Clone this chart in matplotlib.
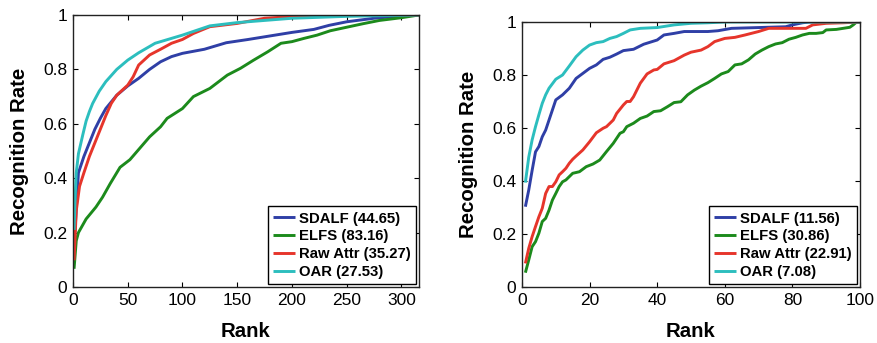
"""
CMC curves, two datasets: SDALF / ELFS / Raw Attr / OAR.
Writes out.png (877x343).
"""
import numpy as np
import matplotlib
matplotlib.use("Agg")
import matplotlib.pyplot as plt

# ── Data: left panel (ranks up to 316) ───────────────────────────────────────
L_SDALF_R = [1, 5, 10, 15, 20, 25, 30, 40, 50, 60, 70, 80, 90, 100, 120, 140,
             160, 180, 200, 220, 234, 250, 275, 300, 316]
L_SDALF_V = [0.15, 0.42, 0.48, 0.53, 0.58, 0.62, 0.656, 0.705, 0.739, 0.767,
             0.80, 0.828, 0.847, 0.859, 0.874, 0.898, 0.91, 0.923, 0.936,
             0.947, 0.962, 0.975, 0.988, 0.996, 1.0]

L_ELFS_R = [1, 3, 5, 12, 21, 27, 34, 43, 52, 61, 70, 80, 86, 100, 110, 125,
            141, 153, 165, 178, 190, 200, 211, 223, 235, 250, 265, 280, 300, 316]
L_ELFS_V = [0.067, 0.17, 0.20, 0.25, 0.294, 0.33, 0.38, 0.44, 0.468, 0.51,
            0.552, 0.589, 0.62, 0.656, 0.70, 0.73, 0.779, 0.804, 0.834, 0.865,
            0.896, 0.902, 0.914, 0.926, 0.942, 0.955, 0.968, 0.98, 0.99, 1.0]

L_RAW_R = [1, 3, 6, 10, 15, 20, 25, 30, 35, 40, 50, 55, 60, 70, 80, 90, 100,
           110, 125, 150, 175, 200, 230, 316]
L_RAW_V = [0.098, 0.28, 0.37, 0.42, 0.48, 0.53, 0.58, 0.63, 0.675, 0.705,
           0.742, 0.773, 0.816, 0.853, 0.874, 0.896, 0.91, 0.932, 0.957,
           0.969, 0.988, 0.994, 1.0, 1.0]

L_OAR_R = [1, 2, 3, 5, 9, 12, 15, 18, 24, 30, 40, 50, 60, 75, 100, 125, 150,
           200, 250, 316]
L_OAR_V = [0.21, 0.33, 0.42, 0.49, 0.56, 0.61, 0.645, 0.675, 0.72, 0.755,
           0.80, 0.834, 0.861, 0.896, 0.926, 0.96, 0.972, 0.988, 0.995, 1.0]

# ── Data: right panel (ranks 1..100) ─────────────────────────────────────────
R_SDALF_R = [1, 2, 3, 4, 5, 6, 7, 8, 9, 10, 12, 14, 16, 18, 20, 22, 24, 26,
             28, 30, 33, 36, 40, 42, 45, 48, 55, 58, 62, 70, 78, 80, 83, 85, 100]
R_SDALF_V = [0.303, 0.366, 0.44, 0.51, 0.53, 0.567, 0.592, 0.63, 0.668, 0.706,
             0.725, 0.75, 0.787, 0.806, 0.825, 0.838, 0.859, 0.867, 0.879,
             0.892, 0.897, 0.916, 0.932, 0.951, 0.957, 0.964, 0.964, 0.967,
             0.976, 0.979, 0.982, 0.989, 0.997, 1.0, 1.0]

R_ELFS_R = [1, 2, 3, 4, 5, 6, 7, 8, 9, 10, 11, 12, 13, 15, 17, 19, 21, 23, 25,
            27, 29, 30, 31, 33, 35, 37, 39, 41, 43, 45, 47, 49, 51, 53, 55, 57,
            59, 61, 63, 65, 67, 69, 71, 73, 75, 77, 79, 81, 83, 85, 87, 89, 90,
            93, 95, 97, 98, 99, 100]
R_ELFS_V = [0.054, 0.102, 0.152, 0.171, 0.203, 0.247, 0.259, 0.29, 0.328,
            0.353, 0.379, 0.397, 0.404, 0.429, 0.435, 0.454, 0.464, 0.479,
            0.511, 0.542, 0.58, 0.586, 0.605, 0.618, 0.636, 0.645, 0.662,
            0.665, 0.68, 0.696, 0.699, 0.725, 0.743, 0.758, 0.771, 0.787,
            0.804, 0.813, 0.838, 0.842, 0.857, 0.879, 0.894, 0.907, 0.917,
            0.922, 0.935, 0.942, 0.951, 0.957, 0.957, 0.96, 0.97, 0.972,
            0.976, 0.98, 0.989, 1.0, 1.0]

R_RAW_R = [1, 2, 3, 4, 5, 6, 7, 8, 9, 10, 11, 12, 13, 14, 15, 16, 18, 20, 22,
           24, 25, 27, 28, 30, 31, 32, 33, 35, 37, 39, 40, 42, 45, 48, 50, 53,
           55, 57, 60, 63, 66, 70, 73, 80, 84, 86, 90, 95, 100]
R_RAW_V = [0.089, 0.146, 0.19, 0.228, 0.265, 0.297, 0.353, 0.379, 0.379,
           0.397, 0.423, 0.435, 0.448, 0.467, 0.482, 0.494, 0.517, 0.548,
           0.582, 0.599, 0.605, 0.63, 0.655, 0.687, 0.70, 0.70, 0.718, 0.769,
           0.804, 0.819, 0.821, 0.842, 0.854, 0.875, 0.886, 0.894, 0.907,
           0.926, 0.938, 0.942, 0.951, 0.964, 0.976, 0.976, 0.976, 0.989,
           0.995, 0.997, 1.0]

R_OAR_R = [1, 2, 3, 4, 5, 6, 7, 8, 10, 12, 14, 16, 18, 20, 22, 24, 26, 28, 30,
           32, 35, 40, 45, 50, 55, 60, 100]
R_OAR_V = [0.394, 0.49, 0.555, 0.605, 0.65, 0.693, 0.725, 0.75, 0.784, 0.80,
           0.834, 0.869, 0.894, 0.913, 0.922, 0.926, 0.938, 0.945, 0.957,
           0.97, 0.976, 0.979, 0.989, 0.995, 0.997, 1.0, 1.0]

LEFT_LABELS = ["SDALF (44.65)", "ELFS (83.16)", "Raw Attr (35.27)", "OAR (27.53)"]
RIGHT_LABELS = ["SDALF (11.56)", "ELFS (30.86)", "Raw Attr (22.91)", "OAR (7.08)"]

# ── Style ────────────────────────────────────────────────────────────────────
BLUE = "#2F3FA6"
GREEN = "#1C8A1C"
RED = "#E6352B"
CYAN = "#2CBEBE"
COLORS = [BLUE, GREEN, RED, CYAN]

plt.rcParams.update({
    "font.family": ["Liberation Sans", "DejaVu Sans"],
    "font.size": 12.5,
    "xtick.direction": "in",
    "ytick.direction": "in",
    "xtick.top": True,
    "ytick.right": True,
    "xtick.major.size": 3.5,
    "ytick.major.size": 3.5,
    "xtick.major.width": 0.8,
    "ytick.major.width": 0.8,
    "axes.linewidth": 1.0,
    "axes.edgecolor": "#222222",
})

fig = plt.figure(figsize=(8.77, 3.43), dpi=100)
ax_l = fig.add_axes([0.0832, 0.1633, 0.3945, 0.793])
ax_r = fig.add_axes([0.5952, 0.1633, 0.3854, 0.7726])

left_series = [(L_SDALF_R, L_SDALF_V), (L_ELFS_R, L_ELFS_V),
               (L_RAW_R, L_RAW_V), (L_OAR_R, L_OAR_V)]
right_series = [(R_SDALF_R, R_SDALF_V), (R_ELFS_R, R_ELFS_V),
                (R_RAW_R, R_RAW_V), (R_OAR_R, R_OAR_V)]

panels = [
    (ax_l, left_series, LEFT_LABELS, 316, [0, 50, 100, 150, 200, 250, 300]),
    (ax_r, right_series, RIGHT_LABELS, 100, [0, 20, 40, 60, 80, 100]),
]

for ax, series, labels, xmax, xticks in panels:
    for (r, v), c, lab in zip(series, COLORS, labels):
        ax.plot(r, v, color=c, linewidth=2.1, label=lab, solid_capstyle="butt")
    ax.set_xlim(0, xmax)
    ax.set_ylim(0, 1)
    ax.set_xticks(xticks)
    ax.set_yticks([0, 0.2, 0.4, 0.6, 0.8, 1.0])
    ax.set_yticklabels(["0", "0.2", "0.4", "0.6", "0.8", "1"])
    ax.set_xlabel("Rank", fontsize=14.7, fontweight="bold", labelpad=10)
    ax.set_ylabel("Recognition Rate", fontsize=14.7, fontweight="bold", labelpad=10)
    ax.tick_params(axis="x", pad=4.5)
    ax.tick_params(axis="y", pad=4)
    leg = ax.legend(loc="lower right", prop={"weight": "bold", "size": 10.7},
                    fancybox=False, edgecolor="black", framealpha=1,
                    borderaxespad=0.2, borderpad=0.35, labelspacing=0.25,
                    handlelength=1.5, handletextpad=0.25)
    leg.get_frame().set_linewidth(1.0)

fig.savefig("out.png", dpi=100)
